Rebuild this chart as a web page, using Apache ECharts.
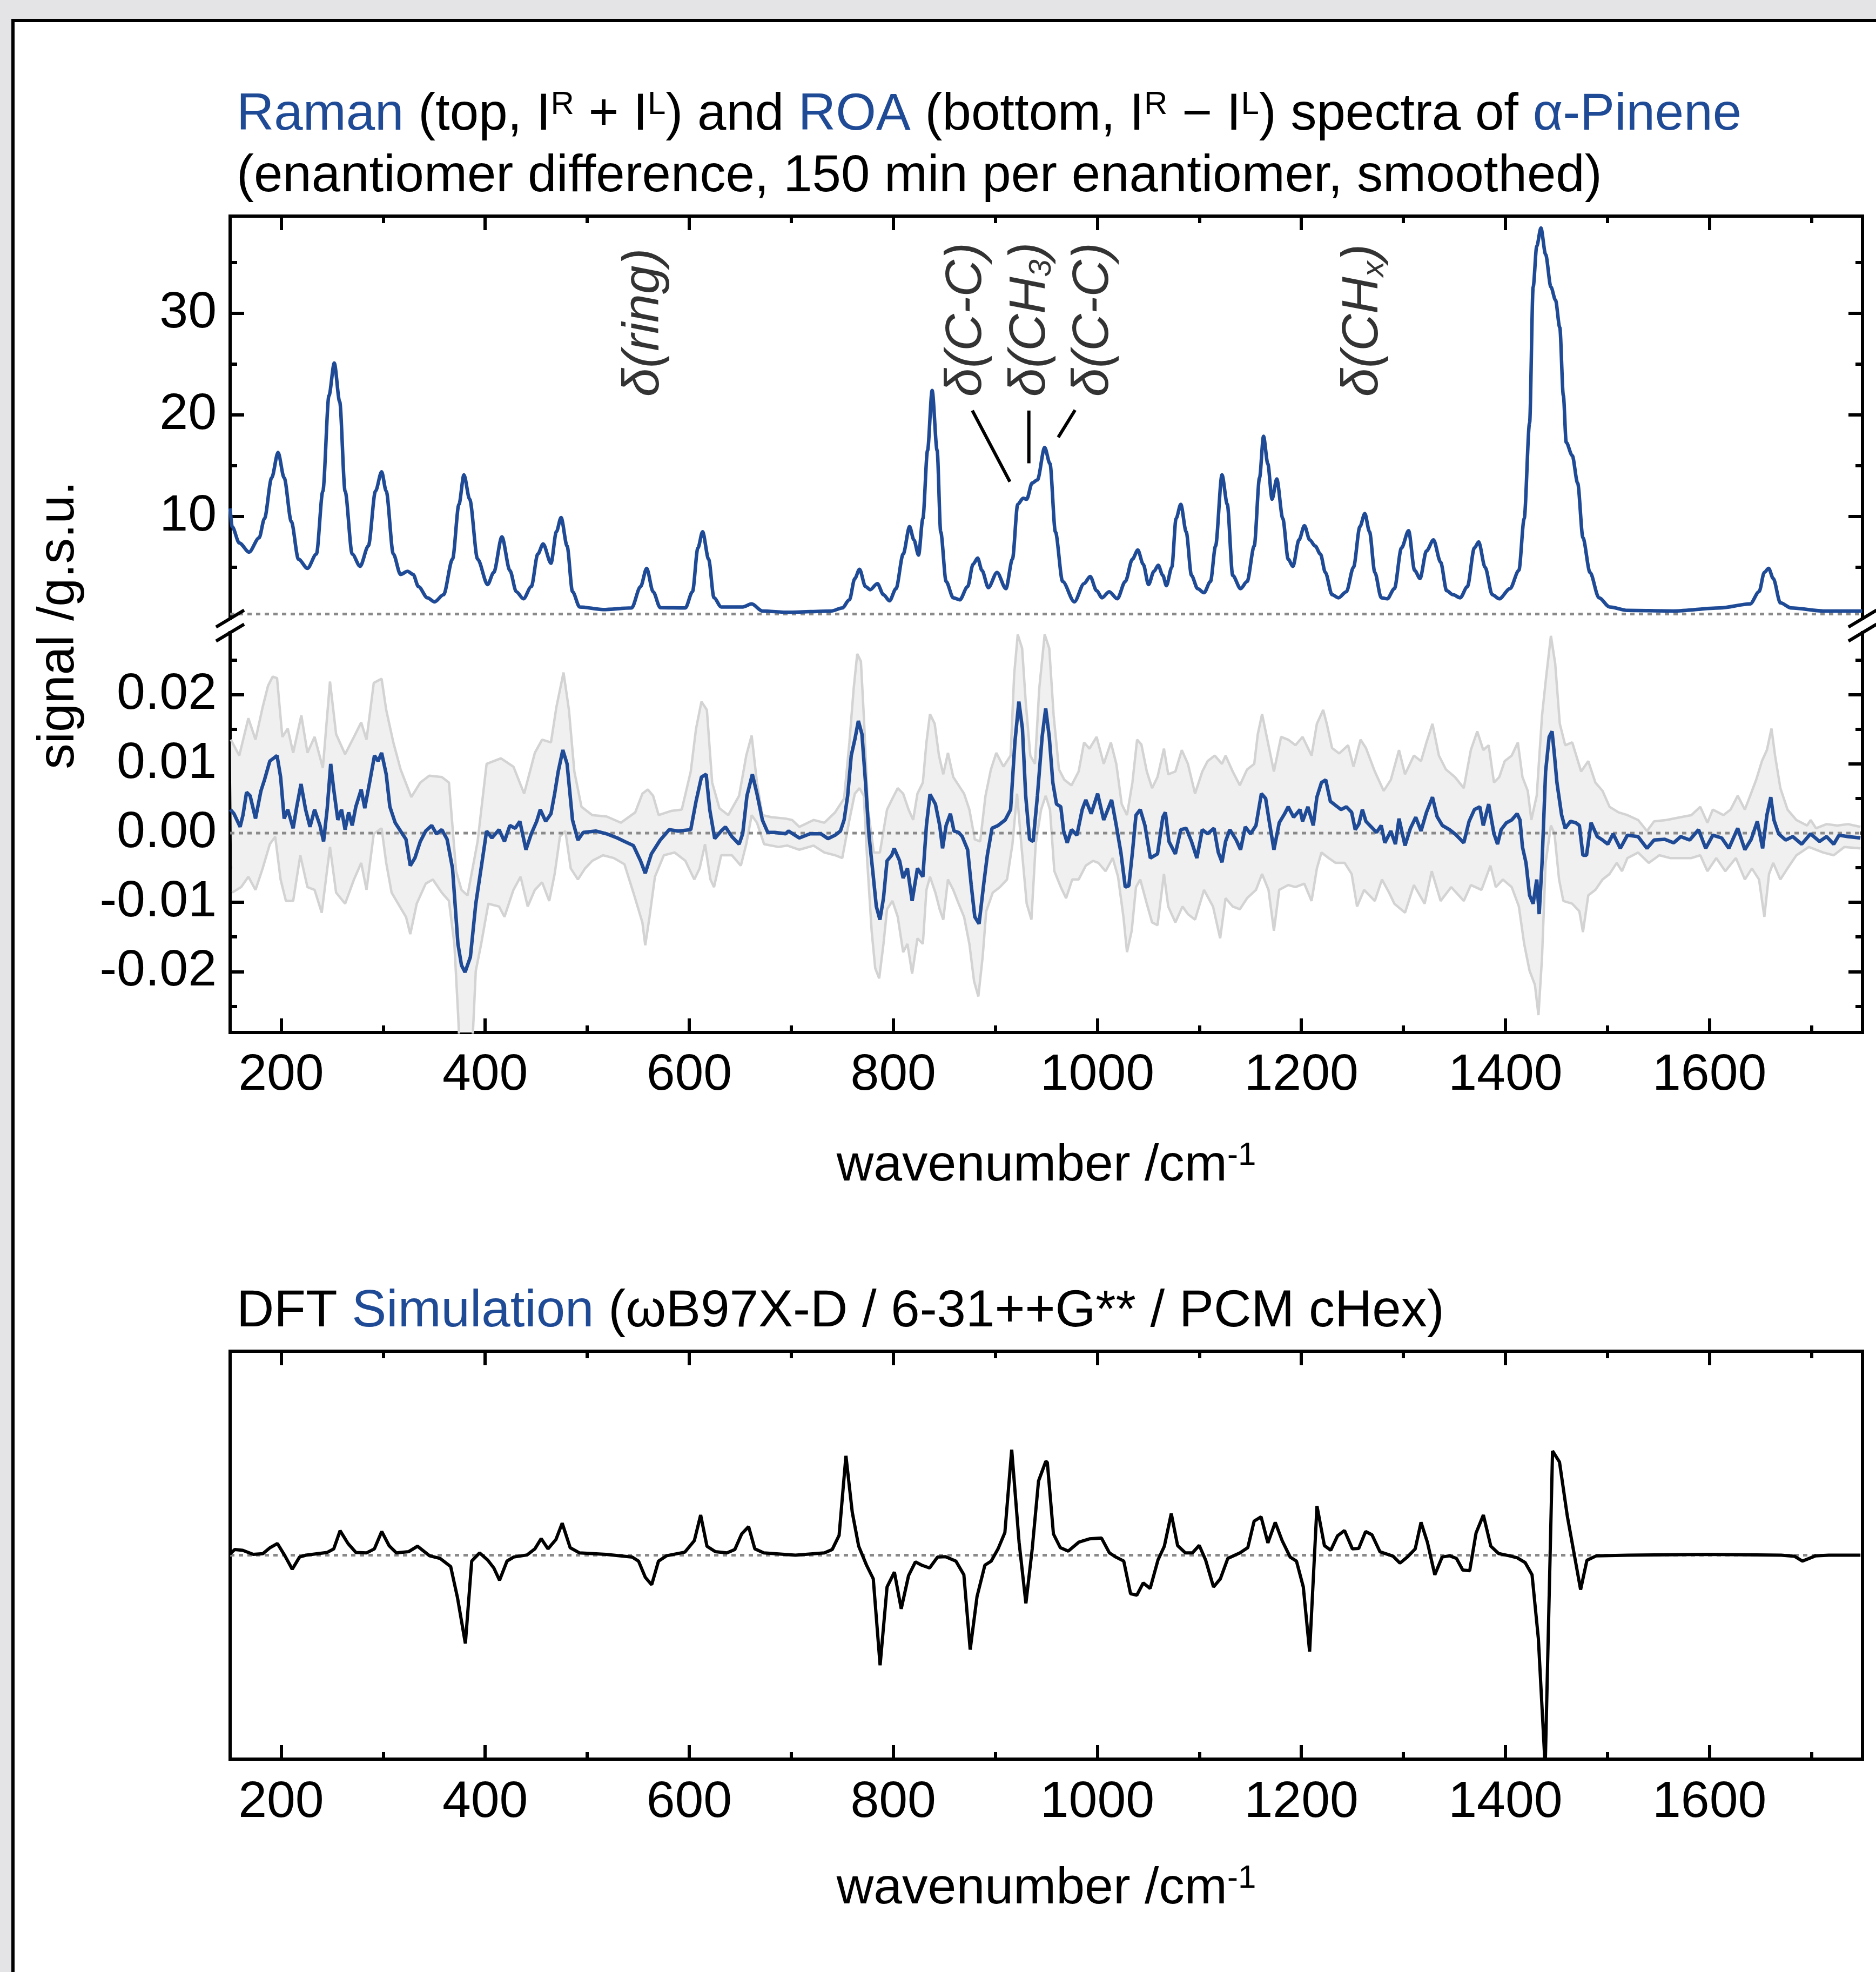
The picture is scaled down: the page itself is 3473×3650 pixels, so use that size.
<!DOCTYPE html>
<html>
<head>
<meta charset="utf-8">
<title>Raman and ROA spectra of α-Pinene</title>
<script src="https://cdn.jsdelivr.net/npm/echarts@6.0.0/dist/echarts.min.js"></script>
<style>
html,body{margin:0;padding:0;background:#e4e4e6;}
#chart{width:3473px;height:3650px;}
</style>
</head>
<body>
<div id="chart"></div>
<script>
// ---------------- data ----------------
const wavenumberMajor = [200, 400, 600, 800, 1000, 1200, 1400, 1600];
const wavenumberMinor = [300, 500, 700, 900, 1100, 1300, 1500, 1700];
const ramanMajor = [10, 20, 30];
const ramanMinor = [5, 15, 25, 35];
const roaMajor = [-20, -10, 0, 10, 20];          // units of 1e-3
const roaMinor = [-25, -15, -5, 5, 15, 25];

// Raman spectrum (I^R + I^L), [wavenumber, g.s.u.]
const raman = [
[150,10.8],[152,9.0],[159,7.4],[168.6,6.5],[178.4,7.9],[183.7,9.8],[190.7,13.8],[197,16.3],[203,13.8],[210,9.5],[217,5.8],[225.8,4.9],[234.6,6.3],[240.9,12.5],[246.9,21.9],[252.1,25.1],[257.4,21.3],[262.7,12.5],[269.7,6.3],[277.4,5.1],[285.5,7.1],[292.5,12.5],[298.5,14.4],[303,12.5],[310,6.3],[317,4.3],[324,4.6],[329.4,4.3],[334.6,3.1],[343.4,2.0],[350.4,1.6],[359.2,2.3],[368,5.8],[374.3,11.2],[379.2,14.1],[384.8,11.7],[392.6,5.8],[402.4,3.3],[408.4,4.5],[416.4,8.0],[424.2,4.7],[430.5,2.6],[437.5,1.9],[445.2,3.1],[451.6,6.3],[456.8,7.3],[464.5,5.4],[469.8,8.5],[474.4,9.9],[480.3,7.1],[485.6,2.6],[492.6,1.1],[515.5,0.84],[543.5,1.0],[552.3,3.1],[558.3,4.9],[564.6,2.6],[571.6,1.03],[596.2,1.0],[603.2,2.6],[608.5,6.9],[613.1,8.5],[619,5.8],[624.3,2.0],[631.3,1.1],[652.4,1.1],[661.2,1.4],[671.7,0.7],[697.3,0.57],
[739.5,0.7],[750,1.0],[757,1.8],[762.3,3.9],[766.9,4.8],[772.8,3.1],[777.4,2.8],[784.4,3.4],[790.4,2.3],[796.3,1.7],[802.7,2.9],[809.7,6.3],[816,9.0],[820.2,7.7],[824.8,6.2],[829,9.8],[833.6,16.5],[838.1,22.4],[843,16.5],[846.5,8.5],[851.8,3.6],[858.8,2.0],[865.2,1.8],[872.9,3.1],[878.2,5.3],[882.7,5.9],[886.9,4.7],[893.2,3.0],[901.7,4.5],[910.4,2.9],[916.8,5.8],[922,11.2],[927.3,11.8],[930.8,11.7],[936.1,13.3],[941.3,13.6],[948.4,16.8],[953.6,15.2],[958.9,8.5],[966,3.6],[977.5,1.6],[987,3.4],[993,4.1],[999.3,2.7],[1004.6,2.0],[1011.6,2.6],[1019.6,1.9],[1027.4,3.6],[1034.4,5.8],[1039.7,6.7],[1045,5.3],[1050.2,3.3],[1055.5,4.6],[1059.7,5.2],[1064.2,4.2],[1067.7,3.2],[1073,5.0],[1077.2,9.8],[1081.8,11.2],[1087.1,8.5],[1092.3,4.2],[1098.3,2.9],[1104.6,2.5],[1110.9,3.6],[1115.9,7.1],[1122.2,14.1],[1127.4,11.2],[1132.7,4.2],[1140.4,2.9],[1146.8,3.6],[1153.8,7.1],[1159,13.8],[1162.9,17.9],[1167.1,15.2],[1171.3,11.7],[1175.9,13.7],[1181.8,9.8],[1187.1,5.8],[1191.7,5.1],[1197.7,7.7],[1203,9.1],[1208.2,7.7],[1213.5,7.1],[1218.7,6.3],[1223.5,4.5],[1230.1,2.3],[1236.4,2.0],
[1244.1,2.6],[1251.1,5.0],[1257.4,9.0],[1262.2,10.3],[1266.8,8.5],[1272,4.5],[1278.3,2.0],[1284.2,1.9],[1291.2,2.9],[1298.1,6.9],[1305.1,8.6],[1311,4.7],[1316.3,3.9],[1322.6,6.6],[1329.5,7.7],[1336.5,5.5],[1342.4,2.7],[1348.7,2.3],[1355.7,2.0],[1362.7,3.1],[1369.6,6.9],[1373.8,7.5],[1380.1,5.0],[1387.1,2.3],[1394,1.9],[1404.5,2.9],[1413.2,4.7],[1418.4,9.8],[1423.7,19.2],[1427.2,32.6],[1430.7,36.6],[1434.8,38.4],[1439.4,35.8],[1444.6,32.6],[1449.1,31.3],[1453.3,28.6],[1456.8,21.9],[1459.6,17.3],[1465.5,16.0],[1470.8,13.3],[1476,7.9],[1482.9,4.5],[1491.7,2.0],[1502.1,1.1],[1519.6,0.76],[1564.9,0.7],[1610.2,1.0],[1639.9,1.4],[1648.6,2.6],[1653.8,4.5],[1658,4.9],[1662.5,3.9],[1669.5,1.5],[1680,1.0],[1711.4,0.7],[1749.7,0.7]
];
const ramanZero = [[150,0.4],[1750,0.4]];

// ROA spectrum (I^R - I^L), [wavenumber, signal x 1e3]
const roa = [
[150.3,3.4],[153.8,2.8],[159.8,0.9],[162.6,2.6],[166.1,5.9],[169.6,5.4],[174.9,2.1],[180.2,6.1],[183.7,7.7],[188.9,10.4],[196,11.2],[199.5,8.1],[203,2.1],[206.5,3.4],[211.8,0.7],[215.3,3.8],[219.5,7.1],[224,3.4],[228.3,0.9],[232.8,3.4],[238.1,1.1],[241.6,-1.2],[245.1,3.4],[248.6,10.0],[251.4,6.5],[255.6,1.9],[259.2,3.4],[262.7,0.5],[266.2,3.0],[269.7,1.1],[273.2,3.8],[278.5,6.3],[282,3.6],[287.2,7.7],[291.5,11.2],[295,10.4],[298.5,11.6],[303,8.5],[306.6,3.8],[311.8,1.5],[318.8,-0.1],[322.4,-0.9],[326.6,-4.7],[331.1,-3.6],[336.4,-1.2],[341.7,0.3],[347.6,1.1],[352.2,-0.1],[357.5,0.5],[362.7,-0.9],[368,-5.1],[373.3,-16.0],[376.8,-19.1],[380.3,-20.1],[385.5,-17.9],[390.8,-10.2],[396.8,-4.3],[401.4,0.3],[406.6,-0.7],[413.6,0.5],[418.9,-1.2],[424.2,1.1],[429.4,0.7],[434,1.7],[440,-2.4],[445.2,-0.1],[450.5,1.7],[454,3.4],[459.3,1.7],[464.5,2.8],[468.1,5.7],[471.6,8.9],[476.1,12.0],[480.3,10.0],[485.6,1.9],[490.9,-1.0],[496.1,0.1],[508.4,0.3],[519,-0.1],[529.5,-0.7],[536.5,-1.2],[545.3,-1.8],[552.3,-4.0],[556.9,-5.8],[562.9,-3.0],[571.6,-1.0],[580.4,0.5],[589.2,0.3],[601.5,0.5],[606.7,4.6],[612,8.1],[616.6,8.5],[620.1,3.4],[625,-0.8],[631.3,0.3],[635.5,0.9],[641.8,-0.5],[648.9,-1.6],[652.4,-0.1],[656.6,5.4],[661.9,8.5],[666.4,5.7],[671.7,1.9],[677,0.1],[684,0.1],[694.5,-0.1],
[697.3,0.3],[707.9,-0.7],[718.4,-0.1],[729,-0.1],[736,-0.8],[743,-0.3],[748.2,0.3],[751.8,1.9],[755.3,5.4],[758.8,11.2],[762.3,13.5],[765.8,16.2],[769.3,14.3],[772.8,7.3],[776.3,-0.5],[779.9,-5.5],[783.4,-10.6],[786.9,-12.5],[790.4,-9.4],[793.9,-4.0],[798.5,-3.2],[800.9,-2.2],[806.2,-4.0],[809.7,-6.5],[813.9,-5.1],[818.5,-9.8],[823.7,-5.1],[829,-6.3],[832.5,1.1],[836,5.6],[841.3,4.2],[845.5,1.1],[848.3,-2.2],[851.8,1.1],[856,2.8],[859.5,0.3],[864.1,0.1],[867.6,-0.5],[872.9,-2.4],[876.4,-7.5],[879.9,-12.1],[884.1,-13.1],[888.7,-7.3],[892.2,-3.2],[896.8,0.7],[902.7,1.1],[909.7,1.9],[915,3.4],[919.2,13.1],[923.1,19.0],[926.6,15.1],[929.8,5.4],[933.6,-0.9],[937.1,-1.2],[941.3,5.4],[945.9,13.9],[949.4,18.0],[952.9,13.9],[956.4,7.3],[960,4.2],[964.2,3.8],[967,0.3],[970.5,-1.4],[974.7,0.5],[980,-0.3],[985.2,3.4],[988.7,4.8],[994,2.8],[1000.3,5.7],[1006.3,1.9],[1014,4.8],[1018.6,1.1],[1023.1,-2.8],[1027.4,-7.8],[1030.9,-7.6],[1034.4,-2.8],[1037.9,2.6],[1042.1,3.4],[1046.7,1.1],[1052,-3.6],[1059,-3.0],[1064.2,2.3],[1066.7,3.0],[1070.2,-1.2],[1076.5,-3.0],[1081.8,0.5],[1087.1,0.7],[1092.3,-1.2],[1097.6,-3.6],[1102.9,0.5],[1108.1,-0.1],[1114.4,0.7],[1118.6,-2.8],[1122.2,-4.2],[1125.7,-1.2],[1129.9,0.5],[1136.2,-1.0],[1140.4,-2.4],[1145,0.9],[1150.2,-0.1],[1155.5,1.1],[1160.8,5.7],[1165,5.0],[1168.5,1.7],[1173.1,-2.4],[1178.3,1.5],[1183.6,2.8],[1187.1,3.8],[1192.4,2.3],[1198.7,3.4],[1201.2,1.7],[1206.4,3.8],[1211.7,1.1],[1215.2,5.2],[1219.7,7.3],[1223.9,7.7],[1228.4,4.6],[1233.6,4.0],[1238.9,3.4],[1244.1,3.8],[1249.3,3.0],[1252.8,0.5],[1256.3,1.3],[1259.8,3.4],[1263.3,1.7],[1268.5,0.9],[1273.7,0.1],[1278.3,1.1],[1281.8,-1.4],[1287.7,0.3],[1292.2,-1.6],[1295.7,2.1],[1301.6,-1.8],[1306.9,0.7],[1312.1,2.3],[1317.3,0.3],[1322.6,3.0],[1328.5,5.2],[1333,2.4],[1338.2,1.1],[1345.2,0.5],[1350.5,-0.1],[1359.2,-1.4],[1364.4,1.7],[1369.6,3.4],[1374.9,3.8],[1378.3,1.1],[1383.6,4.2],[1388.8,-0.1],[1392.3,-1.6],[1395.8,0.5],[1401,1.5],[1406.2,1.9],[1411.5,2.8],[1414.3,1.9],[1416.7,-2.0],[1420.2,-4.3],[1423.7,-9.0],[1427.2,-10.2],[1430.7,-6.7],[1433.1,-11.7],[1435.9,-4.3],[1439.4,8.9],[1442.9,13.9],[1445.7,14.7],[1448.1,11.2],[1450.5,7.3],[1455.1,2.6],[1458.6,0.7],[1463.8,1.7],[1469,1.5],[1472.5,1.1],[1476,-3.2],[1479.5,-3.2],[1484,1.5],[1490,-0.5],[1495.2,-1.0],[1500.4,-1.6],[1505.6,-0.1],[1512.6,-2.2],[1519.6,-0.3],[1530,-0.5],[1538.8,-2.2],[1545.7,-1.0],[1556.2,-0.9],[1564.9,-1.4],[1571.9,-0.5],[1580.6,-1.0],[1589.3,0.5],[1596.3,-2.2],[1603.3,-0.3],[1612,-0.7],[1619,-2.2],[1627.7,0.7],[1634.7,-2.4],[1640.9,-0.9],[1646.9,1.7],[1652.1,-2.2],[1656.3,2.6],[1660.1,5.2],[1663.2,1.9],[1667.8,-0.1],[1674.7,-1.0],[1681.7,-0.5],[1690.4,-1.6],[1699,-0.1],[1707.9,-1.2],[1714.8,-0.5],[1721.8,-1.6],[1727,-0.3],[1735.8,-0.5],[1748,-0.7]
];

// upper / lower bounds of the grey uncertainty band (x 1e3)
const roaUpper = [
[150.7,13.5],[159,11.2],[167.9,16.6],[174.9,13.5],[181.9,18.2],[187.2,21.3],[191.7,22.6],[196,22.4],[201.2,13.9],[206.5,15.1],[211.8,11.6],[219.8,17.0],[225.8,11.6],[232.8,13.9],[240.9,9.4],[247.9,21.9],[253.9,14.3],[262.7,11.4],[271.4,13.9],[278.5,16.0],[283.7,13.5],[290.8,21.7],[298.5,22.3],[303,17.8],[310,13.1],[317.1,9.2],[327.6,5.2],[336.4,7.3],[345.2,8.3],[357.5,8.1],[364.5,7.3],[371.5,-5.5],[376.8,-8.2],[382.7,-9.0],[392.6,-1.2],[401.4,10.0],[415.4,10.8],[427.7,9.6],[438.2,5.7],[448.7,11.6],[455.8,13.5],[464.5,13.1],[469.8,18.2],[476.8,23.2],[482.1,17.8],[487.4,8.9],[494.4,3.8],[505,2.6],[519,2.4],[533,1.5],[547.1,3.0],[554.1,5.7],[559.4,6.3],[564.6,5.4],[570,2.6],[582.1,3.2],[592.7,3.4],[601.5,8.9],[606.7,15.1],[612,19.0],[617.3,17.8],[622.5,7.3],[629.6,3.6],[638.3,2.6],[648.9,5.4],[655.9,11.2],[661.2,14.1],[666.4,7.3],[671.7,2.6],[680.5,2.3],[694.5,2.1],
[700.8,1.9],[707.9,0.9],[721.9,1.9],[732.4,1.5],[743,3.0],[751.8,5.0],[757,13.1],[761.2,20.9],[764.7,25.9],[768.3,24.8],[771.1,17.0],[775.3,3.4],[780.9,-2.8],[786.9,-2.8],[793.9,3.4],[799.2,5.0],[804.4,6.5],[809.7,5.7],[815,3.4],[819.5,1.9],[823.7,5.7],[829,7.3],[832.5,13.1],[836,17.2],[840.6,15.8],[844.8,11.2],[849,8.5],[853.6,11.6],[858.8,8.1],[864.1,6.9],[869.4,5.7],[874.6,3.4],[879.9,-0.9],[885.2,-1.2],[890.4,5.4],[895.7,9.2],[901,11.6],[908,9.6],[915,11.2],[918.5,22.9],[922,28.7],[926.3,26.7],[929.8,19.0],[934.3,11.2],[938.9,10.0],[943.1,20.9],[948.4,28.7],[952.9,26.7],[957.2,17.0],[962.4,9.2],[967.7,7.7],[974.7,6.9],[981.7,8.9],[987,13.1],[992.3,12.2],[999.3,13.9],[1006.3,10.0],[1013.3,13.1],[1018.6,10.0],[1023.9,4.2],[1029.1,2.6],[1034.4,7.3],[1039,13.5],[1043.2,12.8],[1048.5,8.9],[1053.7,6.5],[1059,8.1],[1065.3,12.2],[1069.5,8.5],[1076.5,8.9],[1082.8,12.0],[1088.8,10.0],[1095.8,5.7],[1102.9,8.9],[1108.1,10.4],[1115.1,11.2],[1122.2,10.0],[1125.7,11.2],[1132.7,8.9],[1139.7,6.9],[1146.8,9.2],[1153.8,10.0],[1157.3,14.3],[1161.5,17.2],[1166.1,13.9],[1173.1,8.9],[1180.1,13.9],[1187.1,13.5],[1194.2,12.7],[1201.2,13.9],[1210,11.2],[1215.2,15.8],[1221.4,17.8],[1224.9,15.8],[1230.1,12.3],[1237.1,11.5],[1245.8,12.7],[1251.1,9.6],[1258,13.5],[1263.3,12.3],[1272,8.9],[1280.7,6.1],[1287.7,7.7],[1295.7,12.0],[1301.6,8.5],[1310.3,11.2],[1317.3,10.4],[1322.6,13.1],[1328.5,15.8],[1334.8,11.2],[1341.7,9.2],[1350.5,8.1],[1359.2,6.5],[1366.1,12.0],[1372.4,14.7],[1378.3,12.0],[1383.6,12.7],[1388.8,7.3],[1394,8.1],[1399.3,10.4],[1406.2,11.2],[1412.2,13.1],[1416.7,8.1],[1421.9,6.1],[1425.4,1.9],[1430.7,5.4],[1435.9,17.0],[1440.1,22.8],[1444.6,28.5],[1448.8,24.5],[1453.3,15.8],[1458.6,12.7],[1465.5,13.1],[1474.2,8.9],[1481.2,10.4],[1488.2,7.3],[1495.2,6.1],[1502.1,3.8],[1510.9,3.0],[1519.6,2.6],[1530,1.9],[1538.8,0.3],[1545.7,1.7],[1557.9,1.9],[1571.9,2.3],[1582.3,2.6],[1591,3.8],[1598,1.5],[1603.3,3.4],[1613.7,2.6],[1620.7,3.4],[1627.7,5.4],[1634.7,3.4],[1639.9,5.4],[1645.8,7.7],[1651.4,10.4],[1656.3,12.0],[1660.8,15.1],[1664.3,11.2],[1669.5,6.5],[1676.5,3.4],[1685.2,1.9],[1695.7,1.1],[1699.2,1.9],[1704.4,0.7],[1714.8,1.3],[1725.3,1.1],[1735.8,1.3],[1748,0.9]
];
const roaLower = [
[152,-8.6],[160.8,-7.8],[167.9,-6.3],[174.9,-8.2],[181.9,-5.1],[188.9,-1.6],[194.2,-0.5],[199.5,-6.7],[204.7,-9.8],[211.8,-9.8],[218.8,-3.2],[225.8,-7.8],[232.8,-8.2],[239.8,-11.5],[247.9,-2.0],[253.9,-8.6],[262.7,-10.2],[271.4,-6.7],[278.5,-4.3],[283.7,-8.2],[290.8,-0.1],[298.5,0.7],[303,-4.3],[308.3,-8.6],[317.1,-10.8],[322.4,-12.1],[326.6,-14.6],[332.9,-10.2],[341.7,-7.3],[348.7,-6.7],[357.5,-8.6],[364.5,-9.8],[369.8,-16.0],[373.3,-25.7],[375,-31],[387.3,-31],[390.8,-19.9],[396.1,-16.0],[403.1,-10.2],[413.6,-10.6],[418.9,-12.1],[427.7,-8.2],[434.7,-6.3],[441.7,-10.6],[448.7,-8.2],[455.8,-7.1],[462.8,-9.8],[468.1,-5.9],[473.3,-0.5],[478.6,0.3],[483.9,-5.1],[490.9,-6.7],[497.9,-5.1],[505,-4.0],[515.5,-3.2],[526,-3.6],[536.5,-4.5],[545.3,-8.6],[554.1,-12.9],[556.9,-16.2],[561.1,-12.1],[566.4,-6.3],[575.1,-3.2],[585.7,-2.8],[596.2,-4.0],[605,-6.7],[610.2,-5.1],[615.5,-1.6],[620.8,-6.7],[624.3,-7.8],[631.3,-3.2],[641.8,-3.2],[650.6,-4.7],[655.9,-1.6],[661.2,2.6],[666.4,1.5],[673.4,-1.6],[687.5,-2.0],[696.3,-1.8],
[707.9,-2.4],[721.9,-1.8],[732.4,-2.8],[743,-3.2],[750,-3.6],[757,1.9],[762.3,5.7],[766.9,6.5],[771.1,5.4],[774.6,-4.3],[778.8,-14.1],[782.3,-19.5],[786.2,-21.0],[790.4,-16.0],[793.9,-11.0],[799.2,-9.8],[804.4,-12.1],[809.7,-17.2],[813.9,-16.0],[818.5,-20.3],[823.7,-15.2],[829,-16.0],[832.5,-8.2],[836,-6.3],[841.3,-8.6],[845.5,-11.0],[849,-12.5],[853.6,-6.7],[858.8,-8.2],[864.1,-10.2],[869.4,-12.1],[874.6,-16.0],[879.2,-21.4],[883.4,-23.6],[887.6,-17.9],[891.1,-11.3],[897.5,-8.6],[904.5,-7.8],[911.5,-6.7],[916.8,-1.6],[921.3,5.7],[925.5,-1.6],[930.8,-10.2],[935.4,-12.5],[939.6,-1.6],[944.9,3.4],[949.4,5.4],[953.6,3.4],[957.9,-5.5],[964.2,-7.8],[969.4,-9.4],[975.4,-6.7],[981.7,-6.7],[988.7,-4.7],[995.8,-4.0],[1001,-4.3],[1008.1,-5.5],[1015.1,-3.6],[1020.3,-6.3],[1025.6,-12.1],[1029.1,-17.2],[1033.7,-14.1],[1037.9,-7.8],[1042.1,-6.7],[1048.5,-10.2],[1053.7,-12.9],[1059,-13.3],[1065.3,-5.9],[1069.5,-10.6],[1076.5,-12.9],[1083.5,-10.6],[1088.8,-11.7],[1095.8,-12.5],[1104.6,-8.2],[1113.4,-10.6],[1120.4,-15.2],[1125.7,-9.4],[1132.7,-10.6],[1139.7,-11.0],[1146.8,-9.4],[1155.5,-8.2],[1161.5,-5.9],[1167.8,-8.2],[1173.1,-14.1],[1178.3,-8.2],[1187.1,-7.5],[1194.2,-7.8],[1202.9,-7.3],[1210,-9.8],[1215.2,-5.1],[1219.7,-2.8],[1226.7,-3.6],[1233.6,-4.3],[1242.4,-4.3],[1249.3,-5.9],[1254.6,-10.6],[1261.5,-8.2],[1272,-9.8],[1279,-6.7],[1286,-8.6],[1291.2,-10.2],[1301.6,-11.5],[1310.3,-7.5],[1320.8,-10.2],[1327.8,-5.5],[1336.5,-9.8],[1346.9,-7.8],[1359.2,-9.8],[1366.1,-7.5],[1376.6,-8.2],[1385.3,-4.7],[1390.6,-7.8],[1397.5,-6.7],[1406.2,-7.8],[1413.2,-10.6],[1418.4,-16.0],[1423.7,-19.9],[1428.9,-21.9],[1432.4,-26.3],[1435.9,-17.9],[1439.4,-4.3],[1444.6,1.1],[1448.1,-0.1],[1452.6,-6.7],[1456.8,-9.8],[1465.5,-10.2],[1472.5,-11.3],[1476,-14.3],[1481.2,-9.0],[1488.2,-8.2],[1495.2,-6.7],[1502.1,-5.9],[1509.1,-4.3],[1514.3,-5.5],[1519.6,-3.6],[1530,-2.8],[1540.5,-4.3],[1550.9,-3.2],[1561.4,-3.6],[1571.9,-3.6],[1582.3,-3.6],[1591,-3.2],[1598,-5.5],[1606.7,-3.6],[1615.5,-5.5],[1625.9,-3.6],[1634.7,-6.7],[1641.6,-5.1],[1648.6,-6.7],[1653.8,-12.1],[1658.4,-5.9],[1662.5,-4.3],[1669.5,-6.7],[1676.5,-5.1],[1685.2,-3.2],[1697.4,-2.0],[1711.4,-2.8],[1721.8,-3.2],[1732.3,-2.0],[1748,-2.2]
];
const roaZero = [[150,0],[1750,0]];

// DFT simulated ROA (arbitrary units)
const dft = [
[149.5,0.04],[154.6,0.28],[162.4,0.24],[172.7,0.04],[182,0.07],[189.2,0.37],[196.4,0.57],[203.7,-0.03],[210.9,-0.69],[218.1,-0.09],[224.3,0],[244.9,0.13],[251.6,0.31],[257.8,1.2],[265.6,0.57],[273.3,0.13],[283.6,0.11],[291.4,0.31],[298.6,1.16],[305.8,0.47],[313,0.11],[324.9,0.17],[333.7,0.44],[345.5,-0.03],[355.9,-0.16],[366.2,-0.56],[372.9,-2.09],[380.6,-4.33],[386.8,-0.29],[394.5,0.11],[402.3,-0.23],[408.5,-0.63],[414.1,-1.23],[421.4,-0.29],[428.1,-0.09],[441,0.01],[448.7,0.31],[454.9,0.81],[461.6,0.31],[469.4,0.77],[475.5,1.57],[483.3,0.37],[492.5,0.11],[518.3,0.04],[544.1,-0.09],[550.3,-0.29],[557,-1.09],[563.2,-1.45],[569.9,-0.29],[577.7,-0.03],[595.7,0.15],[605,0.71],[611.2,1.97],[617.4,0.44],[625.6,0.17],[637,0.11],[644.7,0.28],[651.4,1.04],[658.2,1.4],[664.3,0.31],[673.1,0.11],[704.1,0],[732.5,0.11],[740.2,0.28],[746.9,0.97],[753.6,4.87],[759.8,2.11],[766.1,0.44],[773.8,-0.49],[780.4,-1.16],[787.1,-5.4],[793.9,-1.56],[801.1,-0.83],[807.8,-2.63],[815,-1.0],[821.7,-0.33],[827.9,-0.49],[835.6,-0.63],[843.4,-0.09],[851.1,-0.07],[861.4,-0.29],[869.2,-0.96],[875.4,-4.63],[882.1,-2.03],[889.8,-0.49],[896,-0.29],[902.7,0.31],[909.4,1.11],[916.1,5.17],[923.3,0.64],[930,-2.36],[936.2,0.31],[942.4,3.64],[949.5,4.6],[951,4.55],[957,1.04],[963.7,0.37],[971.5,0.2],[981.9,0.64],[992.2,0.8],[1004.1,0.84],[1011.9,0.11],[1018.1,-0.09],[1025.9,-0.29],[1032.6,-1.89],[1038.8,-1.96],[1045,-1.36],[1051.8,-1.63],[1059.5,-0.23],[1065.7,0.44],[1072.5,2.04],[1078.7,0.47],[1086.4,0.11],[1093.2,0.11],[1099.9,0.48],[1106.1,-0.23],[1113.9,-1.56],[1120.6,-1.16],[1127.9,-0.16],[1139.8,0.11],[1147.5,0.37],[1153.7,1.67],[1160.5,1.88],[1167.2,0.6],[1174.4,1.61],[1181.2,0.71],[1189,-0.09],[1195.2,-0.29],[1201.9,-1.56],[1208.1,-4.73],[1215.3,2.41],[1222.6,0.47],[1228.8,0.24],[1235.5,0.95],[1242.3,1.21],[1250,0.31],[1256.2,0.33],[1263,1.16],[1269.2,1.0],[1277,0.17],[1289.9,-0.05],[1296.6,-0.39],[1303.9,-0.09],[1311.6,0.31],[1317.3,1.61],[1323.5,0.64],[1330.8,-0.96],[1338,-0.09],[1345.3,-0.03],[1352,-0.16],[1358.2,-0.73],[1365,-0.76],[1371.2,1.08],[1378.4,1.97],[1385.7,0.44],[1393.4,0.08],[1403.8,-0.03],[1411.6,-0.13],[1419.3,-0.36],[1426.1,-0.96],[1432.3,-4.09],[1439,-10.4],[1446.2,5.11],[1453,4.57],[1460.7,1.91],[1473.7,-1.69],[1479.9,-0.25],[1489.2,-0.03],[1520.3,0],[1598,0.04],[1670.4,0],[1683.3,-0.05],[1691.1,-0.29],[1704.1,-0.03],[1717,0],[1748,0]
];
const dftZero = [[150,0],[1750,0]];

// band assignments [wavenumber, label bottom (g.s.u.), text]
const annotations = [
  [556, 21.8, '{i|δ(ring)}'],
  [872, 21.8, '{i|δ(C-C)}'],
  [934.5, 21.8, '{i|δ(CH}{s|3}{i|)}'],
  [996.5, 21.8, '{i|δ(C-C)}'],
  [1260.7, 21.8, '{i|δ(CH}{s|x}{i|)}']
];
const leaderLines = [
  [[877.5, 20.43], [914.3, 13.42]],
  [[932.9, 20.43], [932.9, 15.24]],
  [[978.2, 20.48], [961.7, 17.8]]
];

// ---------------- styling ----------------
const FONT = '"Liberation Sans", Arial, Helvetica, sans-serif';
const BLUE = '#1f4a96';
const FS = 95;
const TFS = 96;
const X_MIN = 150, X_MAX = 1750;
const LEFT = 426, PW = 3022;

function axLine(show) {
  return { show: show, onZero: false, lineStyle: { color: '#000', width: 6, cap: 'square' } };
}
function tickStyle(values, len) {
  return { show: true, inside: true, length: len, customValues: values, lineStyle: { color: '#000', width: 6 } };
}
function xAx(grid, pos, values, len, line, labels, name, nameGap, margin) {
  const a = {
    type: 'value', gridIndex: grid, position: pos, min: X_MIN, max: X_MAX,
    axisLine: axLine(line),
    axisTick: values ? tickStyle(values, len) : { show: false },
    axisLabel: labels ? { show: true, customValues: values, fontSize: FS, fontFamily: FONT, color: '#000', margin: margin, lineHeight: 100, formatter: v => String(v) } : { show: false },
    splitLine: { show: false }, minorTick: { show: false }, silent: true
  };
  if (name) {
    a.name = '{a|wavenumber /cm}{s|-1}';
    a.nameLocation = 'middle';
    a.nameGap = nameGap;
    a.nameTextStyle = {
      rich: {
        a: { fontSize: FS, fontFamily: FONT, color: '#000', lineHeight: 100 },
        s: { fontSize: 60, fontFamily: FONT, color: '#000', lineHeight: 64, verticalAlign: 'top' }
      }
    };
  }
  return a;
}
function yAx(grid, pos, min, max, values, len, line, labels, fmt) {
  return {
    type: 'value', gridIndex: grid, position: pos, min: min, max: max,
    axisLine: axLine(line),
    axisTick: values ? tickStyle(values, len) : { show: false },
    axisLabel: labels ? { show: true, customValues: values, fontSize: FS, fontFamily: FONT, color: '#000', margin: 25, formatter: fmt } : { show: false },
    splitLine: { show: false }, minorTick: { show: false }, silent: true
  };
}

const R_MIN = -0.05, R_MAX = 39.57;
const O_MIN = -28.8, O_MAX = 28.96;
const D_MIN = -10, D_MAX = 10;
const MAJ = 26, MIN = 13;

const xAxes = [
  xAx(0, 'top', wavenumberMajor, MAJ, true, false),
  xAx(0, 'top', wavenumberMinor, MIN, false, false),
  xAx(1, 'bottom', wavenumberMajor, MAJ, true, true, true, 198, 30),
  xAx(1, 'bottom', wavenumberMinor, MIN, false, false),
  xAx(2, 'bottom', wavenumberMajor, MAJ, true, true, true, 191, 31),
  xAx(2, 'bottom', wavenumberMinor, MIN, false, false),
  xAx(2, 'top', wavenumberMajor, MAJ, true, false),
  xAx(2, 'top', wavenumberMinor, MIN, false, false)
];
const yAxes = [
  yAx(0, 'left', R_MIN, R_MAX, ramanMajor, MAJ, true, true, v => String(v)),
  yAx(0, 'left', R_MIN, R_MAX, ramanMinor, MIN, false, false),
  yAx(0, 'right', R_MIN, R_MAX, ramanMajor, MAJ, true, false),
  yAx(0, 'right', R_MIN, R_MAX, ramanMinor, MIN, false, false),
  yAx(1, 'left', O_MIN, O_MAX, roaMajor, MAJ, true, true, v => (v / 1000).toFixed(2)),
  yAx(1, 'left', O_MIN, O_MAX, roaMinor, MIN, false, false),
  yAx(1, 'right', O_MIN, O_MAX, roaMajor, MAJ, true, false),
  yAx(1, 'right', O_MIN, O_MAX, roaMinor, MIN, false, false),
  yAx(2, 'left', D_MIN, D_MAX, null, 0, true, false),
  yAx(2, 'right', D_MIN, D_MAX, null, 0, true, false)
];

const dotted = { color: '#8a8a8a', width: 5, type: [8, 8] };

const series = [
  { type: 'line', name: 'ramanZero', xAxisIndex: 0, yAxisIndex: 0, data: ramanZero, showSymbol: false, symbol: 'none', lineStyle: dotted, z: 1, silent: true },
  { type: 'line', name: 'Raman', xAxisIndex: 0, yAxisIndex: 0, data: raman, showSymbol: false, symbol: 'none', smooth: 0.3, smoothMonotone: 'x', lineStyle: { color: BLUE, width: 6.5 }, z: 4, silent: true },
  ...leaderLines.map((seg, i) => ({ type: 'line', name: 'leader' + i, xAxisIndex: 0, yAxisIndex: 0, data: seg, showSymbol: false, symbol: 'none', lineStyle: { color: '#000', width: 6 }, z: 5, silent: true })),
  { type: 'scatter', name: 'labels', xAxisIndex: 0, yAxisIndex: 0, data: annotations, symbolSize: 1, itemStyle: { color: 'rgba(0,0,0,0)' }, z: 6, silent: true,
    label: { show: true, position: 'inside', align: 'left', verticalAlign: 'middle', rotate: 90,
      formatter: p => p.data[2],
      rich: {
        i: { fontSize: FS, fontFamily: FONT, fontStyle: 'italic', color: '#000', lineHeight: 100 },
        s: { fontSize: 58, fontFamily: FONT, fontStyle: 'italic', color: '#000', lineHeight: 34, verticalAlign: 'bottom' }
      } } },
  { type: 'custom', name: 'band', xAxisIndex: 2, yAxisIndex: 4, data: [[1000, 0]], clip: true, z: 1, silent: true,
    renderItem: function (params, api) {
      const pts = [];
      roaUpper.forEach(p => pts.push(api.coord(p)));
      for (let i = roaLower.length - 1; i >= 0; i--) pts.push(api.coord(roaLower[i]));
      return { type: 'polygon', shape: { points: pts }, style: { fill: '#f0f0f0' } };
    } },
  { type: 'line', name: 'upper', xAxisIndex: 2, yAxisIndex: 4, data: roaUpper, showSymbol: false, symbol: 'none', lineStyle: { color: '#d3d3d3', width: 4.5 }, z: 2, silent: true },
  { type: 'line', name: 'lower', xAxisIndex: 2, yAxisIndex: 4, data: roaLower, showSymbol: false, symbol: 'none', lineStyle: { color: '#d3d3d3', width: 4.5 }, z: 2, silent: true },
  { type: 'line', name: 'roaZero', xAxisIndex: 2, yAxisIndex: 4, data: roaZero, showSymbol: false, symbol: 'none', lineStyle: dotted, z: 3, silent: true },
  { type: 'line', name: 'ROA', xAxisIndex: 2, yAxisIndex: 4, data: roa, showSymbol: false, symbol: 'none', lineStyle: { color: BLUE, width: 6.5 }, z: 4, silent: true },
  { type: 'line', name: 'dftZero', xAxisIndex: 4, yAxisIndex: 8, data: dftZero, showSymbol: false, symbol: 'none', lineStyle: dotted, z: 1, silent: true },
  { type: 'line', name: 'DFT', xAxisIndex: 4, yAxisIndex: 8, data: dft, showSymbol: false, symbol: 'none', lineStyle: { color: '#000', width: 6 }, z: 4, silent: true }
];

const titleRich = {
  k: { fontSize: TFS, fontFamily: FONT, fill: '#000', lineHeight: 100 },
  b: { fontSize: TFS, fontFamily: FONT, fill: BLUE, lineHeight: 100 },
  sup: { fontSize: 60, fontFamily: FONT, fill: '#000', lineHeight: 64, verticalAlign: 'top' }
};
function slash(cx, cy) {
  return { type: 'line', z: 50, shape: { x1: cx - 26, y1: cy + 15.6, x2: cx + 26, y2: cy - 15.6 }, style: { stroke: '#000', lineWidth: 6 } };
}
const graphic = [
  { type: 'rect', z: -100, shape: { x: 24, y: 38, width: 3500, height: 3700 }, style: { fill: '#fff', stroke: '#000', lineWidth: 6 } },
  { type: 'text', x: 438, y: 214, style: { text: '{b|Raman}{k| (top, I}{sup|R}{k| + I}{sup|L}{k|) and }{b|ROA}{k| (bottom, I}{sup|R}{k| − I}{sup|L}{k|) spectra of }{b|α-Pinene}', font: TFS + 'px ' + FONT, fill: '#000', align: 'left', verticalAlign: 'middle', rich: titleRich } },
  { type: 'text', x: 438, y: 328, style: { text: '{k|(enantiomer difference, 150 min per enantiomer, smoothed)}', font: TFS + 'px ' + FONT, fill: '#000', align: 'left', verticalAlign: 'middle', rich: titleRich } },
  { type: 'text', x: 438, y: 2429, style: { text: '{k|DFT }{b|Simulation}{k| (ωB97X-D / 6-31++G** / PCM cHex)}', font: TFS + 'px ' + FONT, fill: '#000', align: 'left', verticalAlign: 'middle', rich: titleRich } },
  { type: 'text', x: 110, y: 1157, rotation: Math.PI / 2, style: { text: 'signal /g.s.u.', font: FS + 'px ' + FONT, fill: '#000', align: 'center', verticalAlign: 'middle' } },
  slash(426, 1145), slash(426, 1171), slash(3448, 1145), slash(3448, 1171)
];

const chart = echarts.init(document.getElementById('chart'), null, { renderer: 'canvas', width: 3473, height: 3650, devicePixelRatio: 1 });
chart.setOption({
  backgroundColor: '#e4e4e6',
  animation: false,
  grid: [
    { left: LEFT, top: 400, width: PW, height: 745 },
    { left: LEFT, top: 1171, width: PW, height: 740 },
    { left: LEFT, top: 2501, width: PW, height: 755 }
  ],
  xAxis: xAxes,
  yAxis: yAxes,
  series: series,
  graphic: graphic
});
</script>
</body>
</html>
